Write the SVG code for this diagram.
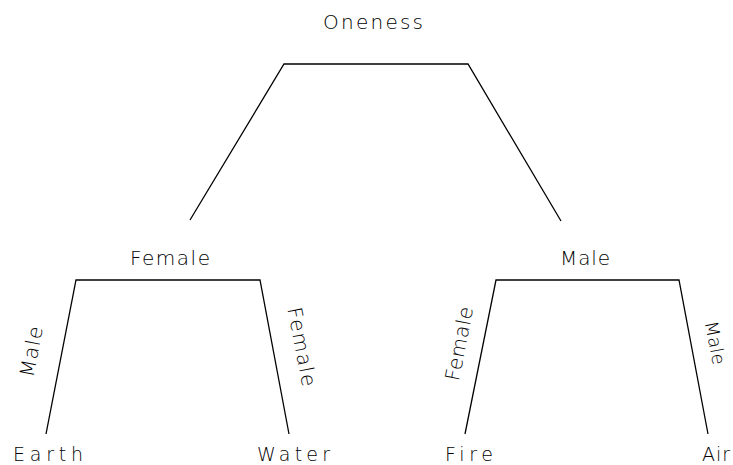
<svg xmlns="http://www.w3.org/2000/svg" width="733" height="465" viewBox="0 0 733 465">
<style>
.bg{fill:#fff}
.ln{fill:none;stroke:#000;stroke-width:1.3}
text{font-family:"DejaVu Sans","Liberation Sans",sans-serif;font-weight:200;font-size:20px;fill:#000;text-anchor:middle}
.leaf{font-size:19px}
.edge{font-size:18px}
</style>
<rect class="bg" x="0" y="0" width="733" height="465"/>
<g id="connectors">
<polyline class="ln" points="190,220 284,64 468,64 561,221"/>
<polyline class="ln" points="46,434 76,280 260,280 289,434"/>
<polyline class="ln" points="465,434 496,280 679,280 708,434"/>
</g>
<g id="node-oneness"><text x="373" y="29" textLength="100" lengthAdjust="spacing">Oneness</text></g>
<g id="node-female"><text x="170" y="265" textLength="80" lengthAdjust="spacing">Female</text></g>
<g id="node-male"><text x="585" y="265" textLength="50" lengthAdjust="spacing">Male</text></g>
<g id="node-earth"><text class="leaf" x="48" y="460.5" textLength="70" lengthAdjust="spacing">Earth</text></g>
<g id="node-water"><text class="leaf" x="293.5" y="460.5" textLength="73" lengthAdjust="spacing">Water</text></g>
<g id="node-fire"><text class="leaf" x="469" y="460.5" textLength="48" lengthAdjust="spacing">Fire</text></g>
<g id="node-air"><text class="leaf" x="716" y="460.5" textLength="28" lengthAdjust="spacing">Air</text></g>
<g id="edge-labels">
<text transform="translate(38,353) rotate(-79)" textLength="51" lengthAdjust="spacing">Male</text>
<text transform="translate(295,348) rotate(79)" textLength="80" lengthAdjust="spacing">Female</text>
<text transform="translate(466,345) rotate(-79)" textLength="75" lengthAdjust="spacing">Female</text>
<text class="edge" transform="translate(709,344) rotate(79)" textLength="44" lengthAdjust="spacing">Male</text>
</g>
</svg>
